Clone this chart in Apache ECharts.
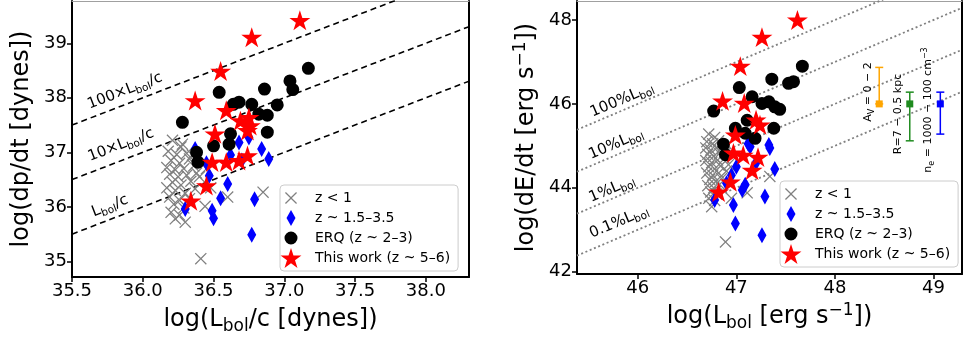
<!DOCTYPE html>
<html><head><meta charset="utf-8">
<script src="https://cdn.jsdelivr.net/npm/echarts@6/dist/echarts.min.js"></script>
<style>html,body{margin:0;padding:0;background:#fff}#c{width:965px;height:342px}</style>
</head><body><div id="c"></div>
<script>
// ---------------- DATA ----------------
const seriesNames = ['z < 1', 'z ~ 1.5–3.5', 'ERQ (z ~ 2–3)', 'This work (z ~ 5–6)'];

// Left panel: log(Lbol/c) vs log(dp/dt)
const dpLowZ = [[36.21,37.22],[36.27,37.10],[36.18,37.02],[36.24,36.96],[36.31,36.98],[36.20,36.85],[36.26,36.80],[36.33,36.88],[36.17,36.72],[36.23,36.68],[36.29,36.70],[36.36,36.75],[36.19,36.60],[36.25,36.55],[36.31,36.58],[36.38,36.62],[36.21,36.45],[36.27,36.40],[36.34,36.47],[36.17,36.35],[36.23,36.30],[36.30,36.25],[36.37,36.33],[36.19,36.18],[36.26,36.12],[36.33,36.15],[36.22,36.05],[36.29,35.98],[36.20,35.90],[36.26,35.85],[36.23,35.78],[36.30,35.72],[36.41,35.05],[36.85,36.27],[36.60,36.18],[36.44,36.01],[36.48,36.35],[36.40,36.55],[36.45,36.70],[36.28,37.15],[36.35,36.95]];
const dpMidZ = [[36.37,37.06],[36.47,36.57],[36.55,36.16],[36.60,36.42],[36.49,35.93],[36.50,35.79],[36.30,35.96],[36.79,36.14],[36.77,35.49],[36.84,37.06],[36.89,36.88],[36.68,37.18],[36.75,37.27],[36.62,36.95],[36.45,36.80],[36.70,36.85]];
const dpERQ = [[37.17,38.54],[37.04,38.31],[37.06,38.15],[36.86,38.16],[36.54,38.10],[36.95,37.87],[36.68,37.92],[36.77,37.88],[36.64,37.88],[36.82,37.70],[36.88,37.68],[36.28,37.55],[36.88,37.37],[36.62,37.34],[36.50,37.12],[36.61,37.15],[36.38,37.00],[36.39,36.82]];
const dpThisWork = [[36.55,38.49],[36.37,37.95],[36.59,37.77],[36.69,37.58],[36.75,37.64],[36.76,37.49],[36.51,37.34],[36.74,37.40],[36.49,36.82],[36.59,36.82],[36.68,36.85],[36.74,36.94],[36.45,36.39],[36.34,36.11],[36.77,39.11],[37.11,39.42]];
const dpLineOffsets = [0, 1, 2];           // Lbol/c, 10x, 100x (log)
const dpXTicks = [35.5, 36.0, 36.5, 37.0, 37.5, 38.0];
const dpYTicks = [35, 36, 37, 38, 39];

// Right panel: log(Lbol) vs log(dE/dt)
const deLowZ = [[46.72,45.28],[46.78,45.20],[46.70,45.10],[46.76,45.05],[46.82,45.12],[46.69,44.95],[46.74,44.90],[46.80,44.95],[46.86,44.98],[46.71,44.80],[46.77,44.75],[46.83,44.82],[46.69,44.65],[46.75,44.60],[46.81,44.66],[46.88,44.70],[46.72,44.50],[46.78,44.45],[46.84,44.52],[46.70,44.35],[46.76,44.30],[46.82,44.35],[46.90,44.40],[46.73,44.20],[46.79,44.15],[46.85,44.22],[46.71,44.05],[46.77,44.00],[46.83,44.08],[46.74,43.90],[46.80,43.85],[46.72,43.75],[46.78,43.70],[46.75,43.55],[46.89,42.71],[47.34,44.27],[47.11,43.88],[46.95,43.75],[46.92,44.55],[46.88,44.85]];
const deMidZ = [[47.34,44.95],[47.39,44.45],[47.29,43.79],[46.97,43.59],[46.99,43.15],[47.26,42.87],[47.09,44.07],[47.06,43.95],[46.78,43.71],[47.14,44.98],[46.90,44.11],[47.33,45.02],[47.12,45.05],[47.20,44.60],[47.00,44.50],[46.95,44.30]];
const deERQ = [[47.67,46.90],[47.36,46.59],[47.53,46.49],[47.58,46.53],[47.03,46.39],[47.16,46.17],[47.26,46.01],[47.33,46.05],[47.39,45.93],[47.44,45.87],[46.77,45.83],[47.11,45.61],[47.38,45.42],[46.99,45.42],[47.09,45.30],[47.19,45.18],[46.87,45.04],[46.89,44.79]];
const deThisWork = [[47.62,48.00],[47.26,47.59],[47.04,46.90],[46.86,46.07],[47.08,46.02],[47.20,45.62],[47.24,45.50],[46.99,45.26],[46.97,44.83],[47.07,44.78],[47.22,44.73],[47.16,44.42],[46.94,44.14],[46.82,43.90]];
const deLineOffsets = [0, -1, -2, -3];     // 100%, 10%, 1%, 0.1% Lbol
const deXTicks = [46, 47, 48, 49];
const deYTicks = [42, 44, 46, 48];

// Systematic error bars: [x, marker, low, high]
const errBars = [[48.45, 46.00, 46.00, 46.87], [48.76, 46.00, 45.12, 46.28], [49.07, 46.00, 45.28, 46.28]];

// ---------------- STYLE ----------------
const FONT = 'DejaVu Sans';
const errColors = ['#FFA500', '#1f8b1f', '#0000FF'];
const BOX = 'M0,0L0.01,0.01ZM22,22L21.99,21.99Z';
const symX = 'path://' + BOX + 'M5,5.9L5.9,5L11,10.1L16.1,5L17,5.9L11.9,11L17,16.1L16.1,17L11,11.9L5.9,17L5,16.1L10.1,11Z';
const symDiamond = 'path://' + BOX + 'M11,3L15.5,11L11,19L6.5,11Z';
const symCircle = 'path://' + BOX + 'M17.5,11A6.5,6.5,0,1,1,4.5,11A6.5,6.5,0,1,1,17.5,11Z';
const symStar = 'path://' + BOX + 'M11,1L13.47,8.6L21.46,8.6L15,13.3L17.47,20.9L11,16.2L4.53,20.9L7,13.3L0.54,8.6L8.53,8.6Z';
const symbols = [symX, symDiamond, symCircle, symStar];
const colors = ['#808080', '#0000FF', '#000000', '#FF0000'];

const ext = {
  dpX: [35.5, 38.305], dpY: [34.714, 39.775],
  deX: [45.383, 49.29], deY: [41.945, 48.453]
};

const nameRich = {
  n: {fontSize: 24, lineHeight: 30, color: '#000', fontFamily: FONT},
  sub: {fontSize: 17, lineHeight: 17, verticalAlign: 'bottom', color: '#000', fontFamily: FONT},
  sup: {fontSize: 17, lineHeight: 17, verticalAlign: 'top', color: '#000', fontFamily: FONT}
};

function mainAxis(gridIndex, pos, range, ticks, fmt, name, gap) {
  return {
    type: 'value', gridIndex, position: pos, min: range[0], max: range[1],
    splitLine: {show: false},
    axisLine: {onZero: false, lineStyle: {color: '#000', width: 2}},
    axisTick: {inside: false, length: 5, lineStyle: {color: '#000', width: 1.5}, customValues: ticks},
    axisLabel: {color: '#000', fontSize: 18, fontFamily: FONT, margin: 5, customValues: ticks, formatter: fmt},
    name, nameLocation: 'middle', nameGap: gap,
    nameTextStyle: {fontSize: 24, color: '#000', fontFamily: FONT, rich: nameRich}
  };
}
function frameAxis(gridIndex, pos, range, color, width) {
  return {
    type: 'value', gridIndex, position: pos, min: range[0], max: range[1],
    splitLine: {show: false}, axisTick: {show: false}, axisLabel: {show: false},
    axisLine: {onZero: false, lineStyle: {color, width}}
  };
}

function refLines(offsets, xr, xi, yi, style) {
  return offsets.map(k => ({
    type: 'line', xAxisIndex: xi, yAxisIndex: yi, silent: true, symbol: 'none', clip: true,
    data: [[xr[0], xr[0] + k], [xr[1], xr[1] + k]],
    lineStyle: style, z: 1
  }));
}
function scatters(datas, xi, yi) {
  return datas.map((d, i) => ({
    type: 'scatter', name: seriesNames[i], xAxisIndex: xi, yAxisIndex: yi,
    data: d, symbol: symbols[i], symbolSize: 22,
    itemStyle: {color: colors[i], opacity: 1}, z: 2 + i
  }));
}

const lineRich = {
  n: {fontSize: 15, lineHeight: 20, fill: '#000', fontFamily: FONT},
  sub: {fontSize: 10.5, lineHeight: 11, verticalAlign: 'bottom', fill: '#000', fontFamily: FONT}
};
const annRich = {
  n: {fontSize: 11, lineHeight: 15, fill: '#000', fontFamily: FONT},
  sub: {fontSize: 8, lineHeight: 8, verticalAlign: 'bottom', fill: '#000', fontFamily: FONT},
  sup: {fontSize: 8, lineHeight: 8, verticalAlign: 'top', fill: '#000', fontFamily: FONT}
};
function gText(x, y, rot, text, rich) {
  return {type: 'text', x, y, rotation: rot, z: 50, silent: true,
    style: {text, rich, align: 'center', verticalAlign: 'middle'}};
}
const aL = Math.atan(54.6 / 141.9), aR = Math.atan(41.95 / 98.5);

const legendCommon = {
  orient: 'vertical', itemWidth: 38, itemHeight: 22, itemGap: -2,
  padding: [2, 8, 2, 0], backgroundColor: 'rgba(255,255,255,0.85)',
  borderColor: '#cccccc', borderWidth: 1, borderRadius: 4,
  textStyle: {fontSize: 14, color: '#000', fontFamily: FONT},
  data: seriesNames, selectedMode: false
};

const option = {
  animation: false,
  textStyle: {fontFamily: FONT},
  grid: [
    {left: 72, top: 1, width: 397, height: 276},
    {left: 577, top: 1, width: 385, height: 273}
  ],
  xAxis: [
    mainAxis(0, 'bottom', ext.dpX, dpXTicks, v => v.toFixed(1), '{n|log(L}{sub|bol}{n|/c [dynes])}', 28),
    frameAxis(0, 'top', ext.dpX, '#a0a0a0', 1),
    mainAxis(1, 'bottom', ext.deX, deXTicks, v => String(v), '{n|log(L}{sub|bol}{n| [erg s}{sup|−1}{n|])}', 28),
    frameAxis(1, 'top', ext.deX, '#a0a0a0', 1)
  ],
  yAxis: [
    mainAxis(0, 'left', ext.dpY, dpYTicks, v => String(v), '{n|log(dp/dt [dynes])}', 35),
    frameAxis(0, 'right', ext.dpY, '#000', 2),
    mainAxis(1, 'left', ext.deY, deYTicks, v => String(v), '{n|log(dE/dt [erg s}{sup|−1}{n|])}', 35),
    frameAxis(1, 'right', ext.deY, '#000', 2)
  ],
  legend: [
    Object.assign({left: 280, top: 185}, legendCommon),
    Object.assign({left: 780, top: 181}, legendCommon)
  ],
  series: [].concat(
    refLines(dpLineOffsets, ext.dpX, 0, 0, {color: '#000', width: 1.6, type: [6, 4]}),
    refLines(deLineOffsets, ext.deX, 2, 2, {color: '#808080', width: 1.8, type: [2, 2.6]}),
    scatters([dpLowZ, dpMidZ, dpERQ, dpThisWork], 0, 0),
    scatters([deLowZ, deMidZ, deERQ, deThisWork], 2, 2),
    [{
      type: 'custom', xAxisIndex: 2, yAxisIndex: 2, silent: true, z: 10,
      data: errBars,
      renderItem: function (params, api) {
        const x = api.value(0), m = api.value(1), lo = api.value(2), hi = api.value(3);
        const pm = api.coord([x, m]), pl = api.coord([x, lo]), ph = api.coord([x, hi]);
        const c = errColors[params.dataIndex];
        const ls = {stroke: c, lineWidth: 1.5};
        return {type: 'group', children: [
          {type: 'line', shape: {x1: pl[0], y1: pl[1], x2: ph[0], y2: ph[1]}, style: ls},
          {type: 'line', shape: {x1: pl[0] - 4, y1: pl[1], x2: pl[0] + 4, y2: pl[1]}, style: ls},
          {type: 'line', shape: {x1: ph[0] - 4, y1: ph[1], x2: ph[0] + 4, y2: ph[1]}, style: ls},
          {type: 'rect', shape: {x: pm[0] - 3.5, y: pm[1] - 3.5, width: 7, height: 7}, style: {fill: c}}
        ]};
      }
    }]
  ),
  graphic: [
    gText(125, 91, aL, '{n|100×L}{sub|bol}{n|/c}', lineRich),
    gText(121, 145, aL, '{n|10×L}{sub|bol}{n|/c}', lineRich),
    gText(110, 206, aL, '{n|L}{sub|bol}{n|/c}', lineRich),
    gText(622, 100, aR, '{n|100%L}{sub|bol}', lineRich),
    gText(616, 144, aR, '{n|10%L}{sub|bol}', lineRich),
    gText(612, 189, aR, '{n|1%L}{sub|bol}', lineRich),
    gText(619, 222, aR, '{n|0.1%L}{sub|bol}', lineRich),
    gText(868, 92, Math.PI / 2, '{n|A}{sub|V}{n| = 0 − 2}', annRich),
    gText(898, 114, Math.PI / 2, '{n|R=7 − 0.5 kpc}', annRich),
    gText(928, 110, Math.PI / 2, '{n|n}{sub|e}{n| = 1000 − 100 cm}{sup|−3}', annRich)
  ]
};

const chart = echarts.init(document.getElementById('c'), null, {renderer: 'canvas'});
chart.setOption(option);
</script>
</body></html>
